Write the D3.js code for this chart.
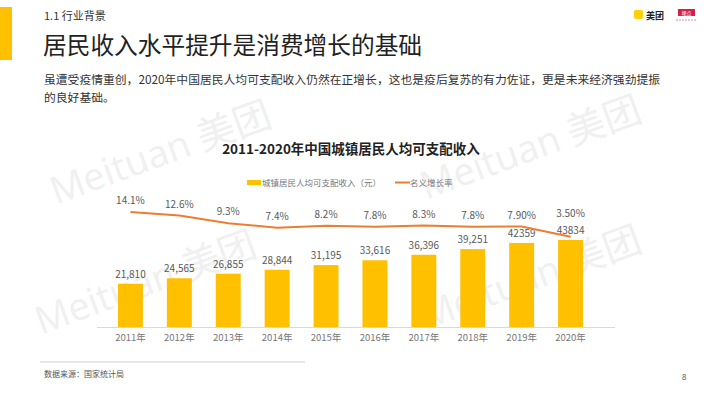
<!DOCTYPE html>
<head>
  <meta charset="utf-8">
  <script src="https://d3js.org/d3.v7.min.js"></script>
  <style>
    body { margin: 0; background: #fff; }
    svg { display: block; font-family: "Noto Sans CJK SC", "Noto Sans", sans-serif; }
  </style>
</head>
<body>
  <svg width="710" height="399"></svg>
  <script>
    // data
    var years = ['2011年', '2012年', '2013年', '2014年', '2015年', '2016年', '2017年', '2018年', '2019年', '2020年'];
    var income = [21810, 24565, 26855, 28844, 31195, 33616, 36396, 39251, 42359, 43834];
    var incomeLabels = ['21,810', '24,565', '26,855', '28,844', '31,195', '33,616', '36,396', '39,251', '42359', '43834'];
    var growth = [14.1, 12.6, 9.3, 7.4, 8.2, 7.8, 8.3, 7.8, 7.9, 3.5];
    var growthLabels = ['14.1%', '12.6%', '9.3%', '7.4%', '8.2%', '7.8%', '8.3%', '7.8%', '7.90%', '3.50%'];

    var yellow = '#FFC000', orange = '#ED7D31';
    var svg = d3.select('svg');

    // watermarks
    var wm = [[165, 165], [150, 295], [535, 160], [535, 290]];
    wm.forEach(function (p) {
      svg.append('text')
        .attr('transform', 'translate(' + p + ') rotate(-20)')
        .attr('text-anchor', 'middle')
        .attr('font-size', 38)
        .attr('font-family', 'Open Sans, Noto Sans CJK SC')
        .attr('fill', '#f0f0f0')
        .text('Meituan 美团');
    });

    // header
    svg.append('rect').attr('x', 0).attr('y', 7).attr('width', 12).attr('height', 53).attr('fill', yellow);
    svg.append('text').attr('x', 44).attr('y', 20).attr('font-size', 11).attr('fill', '#333').text('1.1 行业背景');
    svg.append('text').attr('x', 43).attr('y', 54).attr('font-size', 23.7).attr('fill', '#222').text('居民收入水平提升是消费增长的基础');
    svg.append('text').attr('x', 44).attr('y', 84).attr('font-size', 11.8).attr('fill', '#333')
      .text('虽遭受疫情重创，2020年中国居民人均可支配收入仍然在正增长，这也是疫后复苏的有力佐证，更是未来经济强劲提振');
    svg.append('text').attr('x', 44).attr('y', 102).attr('font-size', 11.8).attr('fill', '#333').text('的良好基础。');

    // logos
    svg.append('rect').attr('x', 634).attr('y', 10).attr('width', 9).attr('height', 9).attr('rx', 2).attr('fill', '#FFD100');
    svg.append('text').attr('x', 646).attr('y', 18.5).attr('font-size', 9).attr('font-weight', 'bold').attr('fill', '#222').text('美团');
    svg.append('rect').attr('x', 678).attr('y', 9).attr('width', 17).attr('height', 7).attr('fill', '#d6204b');
    svg.append('text').attr('x', 686.5).attr('y', 15).attr('text-anchor', 'middle').attr('font-size', 5).attr('fill', '#fff').text('埋点');
    svg.append('line').attr('x1', 676).attr('x2', 697).attr('y1', 20).attr('y2', 20)
      .attr('stroke', '#e08a9c').attr('stroke-width', 1).attr('stroke-dasharray', '2,1');

    // chart title
    svg.append('text').attr('x', 351).attr('y', 154).attr('text-anchor', 'middle')
      .attr('font-size', 13.5).attr('font-weight', 'bold').attr('fill', '#222')
      .text('2011-2020年中国城镇居民人均可支配收入');

    // legend
    svg.append('rect').attr('x', 247).attr('y', 180).attr('width', 14).attr('height', 5).attr('fill', yellow);
    svg.append('text').attr('x', 262).attr('y', 185.5).attr('font-size', 8.5).attr('fill', '#777').text('城镇居民人均可支配收入（元）');
    svg.append('line').attr('x1', 395).attr('x2', 410).attr('y1', 182.5).attr('y2', 182.5).attr('stroke', orange).attr('stroke-width', 2);
    svg.append('text').attr('x', 410).attr('y', 185.5).attr('font-size', 8.5).attr('fill', '#777').text('名义增长率');

    // scales
    var x = d3.scaleBand().domain(years).range([94, 607]).padding(0.49);
    var yBar = d3.scaleLinear().domain([0, 43834]).range([327, 240]);
    var yLine = d3.scaleLinear().domain([0, 14.1]).range([245, 212]);
    var cx = function (i) { return x(years[i]) + x.bandwidth() / 2; };

    // bars
    svg.selectAll('rect.bar').data(income).enter().append('rect')
      .attr('class', 'bar')
      .attr('x', function (d, i) { return x(years[i]); })
      .attr('y', function (d) { return yBar(d); })
      .attr('width', x.bandwidth())
      .attr('height', function (d) { return yBar(0) - yBar(d); })
      .attr('fill', yellow);

    svg.selectAll('text.blab').data(income).enter().append('text')
      .attr('class', 'blab')
      .attr('x', function (d, i) { return cx(i); })
      .attr('y', function (d) { return yBar(d) - 6; })
      .attr('text-anchor', 'middle')
      .attr('font-size', 10)
      .attr('fill', '#595959')
      .text(function (d, i) { return incomeLabels[i]; });

    // x axis
    var xAxis = d3.axisBottom(x).tickSize(0).tickPadding(7);
    var gx = svg.append('g').attr('transform', 'translate(0,327)').call(xAxis);
    gx.select('.domain').attr('stroke', '#d9d9d9').attr('d', 'M97,0.5H615');
    gx.selectAll('text').attr('font-size', 9.5).attr('fill', '#777').attr('font-family', 'Noto Sans CJK SC');

    // growth line
    var line = d3.line()
      .x(function (d, i) { return cx(i); })
      .y(function (d) { return yLine(d); });
    svg.append('path').datum(growth)
      .attr('d', line)
      .attr('fill', 'none')
      .attr('stroke', orange)
      .attr('stroke-width', 2);

    svg.selectAll('text.glab').data(growth).enter().append('text')
      .attr('class', 'glab')
      .attr('x', function (d, i) { return cx(i); })
      .attr('y', function (d, i) { return Math.min(yLine(d) - 8, yBar(income[i]) - 23); })
      .attr('text-anchor', 'middle')
      .attr('font-size', 10)
      .attr('fill', '#595959')
      .text(function (d, i) { return growthLabels[i]; });

    // footer
    svg.append('line').attr('x1', 40).attr('x2', 305).attr('y1', 362).attr('y2', 362).attr('stroke', '#cfcfcf').attr('stroke-width', 1);
    svg.append('text').attr('x', 44).attr('y', 377).attr('font-size', 8).attr('fill', '#555').text('数据来源：国家统计局');
    svg.append('text').attr('x', 682).attr('y', 380).attr('font-size', 8).attr('fill', '#555').text('8');
  </script>
</body>
